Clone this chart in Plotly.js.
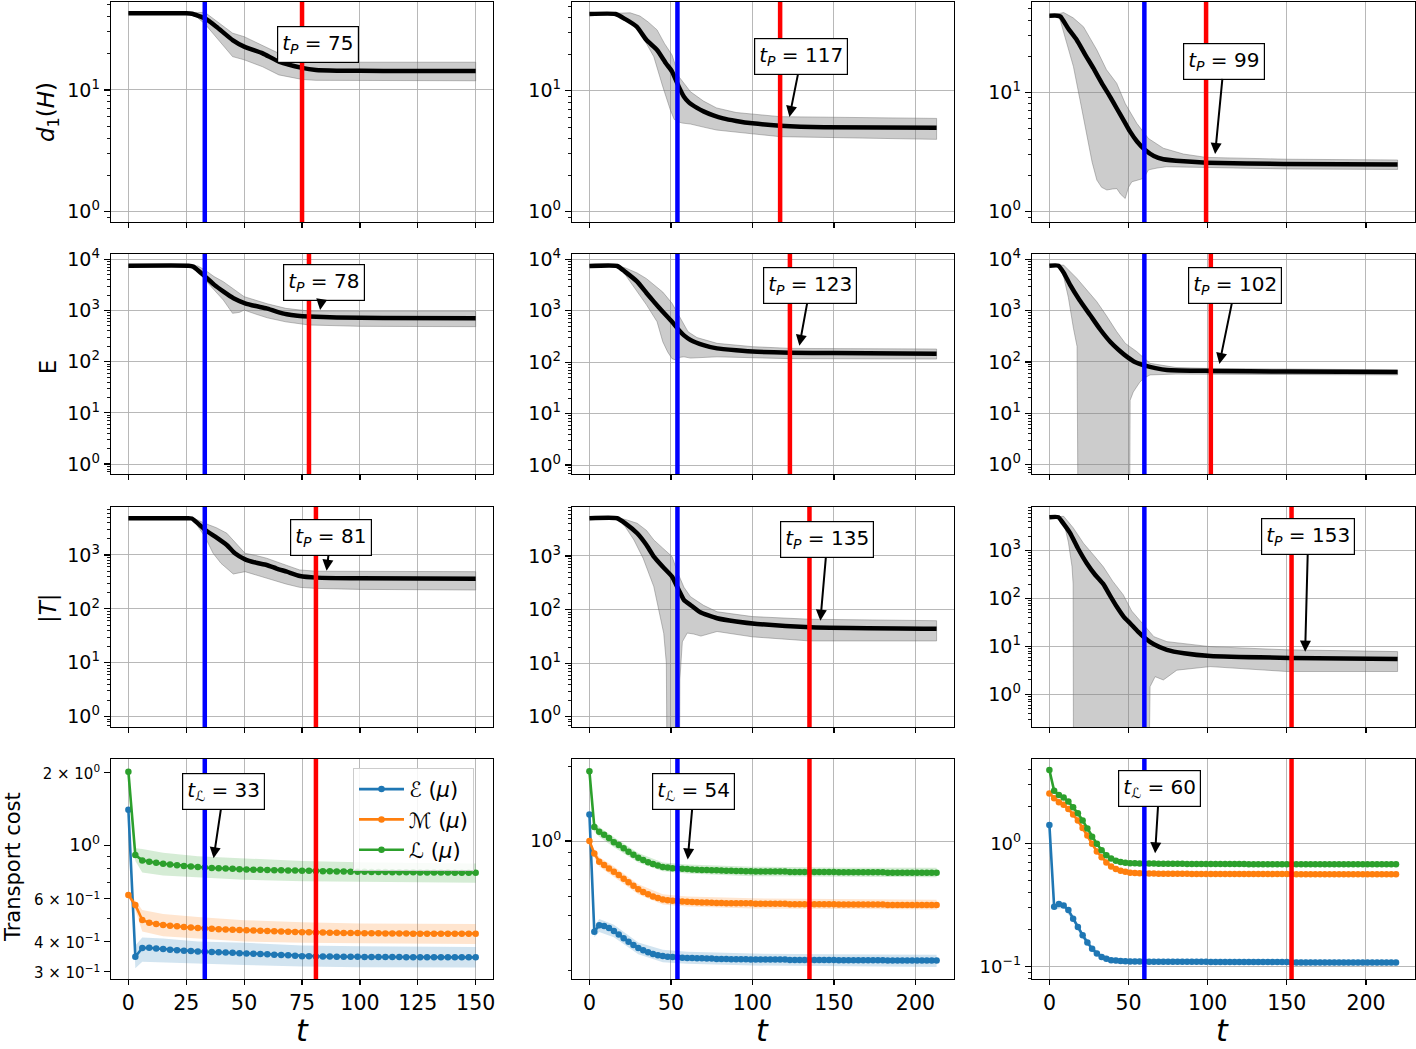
<!DOCTYPE html>
<html><head><meta charset="utf-8">
<script src="https://cdn.plot.ly/plotly-3.0.1.min.js"></script>
<style>html,body{margin:0;padding:0;background:#fff;} #chart{width:1416px;height:1049px;}</style>
</head><body><div id="chart"></div>
<script>
// ---------- vertical marker times ----------
const tL   = [33, 54, 60];
const tP_d1 = [75, 117, 99];
const tP_E  = [78, 123, 102];
const tP_T  = [81, 135, 153];

// ---------- Row 1 : d1(H) ----------
const d1_t_A  = [0,25,27.5,33,38,45,50,58,65,75,81,90,100,120,150];
const d1_m_A  = [42.7,42.7,42.3,38.8,33.1,25.7,22.7,20.0,17.1,15.2,14.6,14.4,14.35,14.3,14.3];
const d1_ht_A = [0,25,28,33,38,45,50,58,65,75,81,100,150];
const d1_hi_A = [42.7,42.7,43,43.5,37,29.3,27.4,23,20,17.1,16.9,16.9,16.9];
const d1_lt_A = [0,25,28,33,38,45,50,58,65,75,81,100,150];
const d1_lo_A = [42.7,42.7,42,35,27,18.8,17.7,15.5,13.3,12.2,12.0,11.9,11.9];

const d1_t_B  = [0,16,22,29,35,41.5,47,50.7,54.8,58,61,66,70,76,82,90,100,117,144,213];
const d1_m_B  = [43,43,39,33.8,26.2,21.7,16.8,14.4,10.8,8.9,8.0,7.2,6.75,6.25,5.9,5.62,5.37,5.14,4.98,4.94];
const d1_ht_B = [0,16,25,31,36,41.5,46,50.7,55,62,70,78,90,117,213];
const d1_hi_B = [43,43.5,44,41.4,37,31.8,24.6,19.7,13,9.8,8.2,7.2,6.6,6.1,5.9];
const d1_lt_B = [0,16,20,25,32,39.5,45,49.7,52,55,57,62,70,78,100,117,213];
const d1_lo_B = [43,42,41,38.4,28.9,19.1,10.8,6.9,5.8,5.5,5.4,5.3,5.0,4.73,4.4,4.17,3.96];

const d1_t_C  = [0,5,7,12,17.3,22.5,27.8,33,38.3,42.5,47,51,55.5,60.5,66,72,85,99.4,148,220];
const d1_m_C  = [43.8,43.8,43,34,27.4,20.8,15.9,12.0,9.2,7.35,5.8,4.68,3.85,3.29,2.93,2.75,2.64,2.57,2.51,2.48];
const d1_ht_C = [0,5,9,15,21.5,30,36,42.5,48,55.2,62.6,72,84.7,99,150,220];
const d1_hi_C = [43.8,45,46.5,42,35.4,22.6,15.5,11.9,8,5.5,4.1,3.4,3.04,2.85,2.75,2.71];
const d1_lt_C = [0,5,6.8,10,15.2,20,23.6,27,30,33,36.3,40,42.6,45,47.9,50,52.1,55,59.5,62.6,68,74,99,150,220];
const d1_lo_C = [43.8,43.8,40.3,29,16.4,7.8,4.54,2.6,1.84,1.6,1.52,1.55,1.56,1.4,1.29,1.6,1.78,1.82,1.9,2.24,2.32,2.38,2.33,2.28,2.26];

// ---------- Row 2 : E ----------
const E_t_A  = [0,26,28,33.2,37,41.1,45.4,50.4,55,59.7,64,68.4,73,78.1,90,110,150];
const E_m_A  = [7500,7500,7200,4570,3200,2330,1730,1380,1220,1100,950,843,790,760,730,715,705];
const E_ht_A = [0,26,30,33,37,41,45,50,60,68,78,100,150];
const E_hi_A = [7500,7500,7400,6200,4600,3650,2700,1860,1350,1100,975,960,960];
const E_lt_A = [0,26,30,33,37,41,45,48,50,55,60,68,78,100,150];
const E_lo_A = [7500,7500,6800,4000,2500,1600,880,920,1020,850,720,600,521,490,483];

const E_t_B  = [0,17,22,29.3,35,39.5,45,50.7,54.8,58,62,70,78.3,90,103,123,150,213];
const E_m_B  = [7400,7400,5690,3670,2210,1500,955,611,422,331,270,215,185,170,159,152,150,146];
const E_ht_B = [0,17,22,29.3,35,39.5,45,50.7,56,60.5,66,78.3,100,123,213];
const E_hi_B = [7400,7500,6800,5400,4200,3160,2300,1390,700,390,300,232,200,185,180];
const E_lt_B = [0,17,22,29.3,35,41.5,45,48,50.7,53,56,58,62,78.3,123,213];
const E_lo_B = [7400,7300,5000,2340,1300,611,250,158,117,110,125,127,120,127,117,115];

const E_t_C  = [0,5.7,9,13.1,19,25.7,32,38.4,44,48.9,54,60.5,67,74.2,101.6,150,220];
const E_m_C  = [7500,7500,5500,3160,1610,822,434,248,169,127,100,85,76,70,67,65,64];
const E_ht_C = [0,5.7,9,17.3,23,29.9,36,42.5,48,55.2,63.6,80,100,150,220];
const E_hi_C = [7500,7600,7700,4270,2600,1500,800,390,230,159,94,78,75,72,70];
const E_lt_C = [0,5.7,9,12,15.2,17.5,18.4,50.5,51,53,55.2,57,59.5,63.6,80,150,220];
const E_lo_C = [7500,7400,4600,1800,453,200,0.001,0.001,18,26,33,40,48,56,58,57,56];

// ---------- Row 3 : |T| ----------
const T_t_A  = [0,25,27.4,33.2,37.5,42.5,46,50.4,55,59.7,64,68.4,74.1,81.3,100,150];
const T_m_A  = [4800,4800,4750,2910,2190,1530,1075,830,720,652,560,490,408,380,368,363];
const T_ht_A = [0,25,28,33,38,42.5,46,50.4,55,59.7,68.4,74,81,150];
const T_hi_A = [4800,4800,4850,3870,3200,2530,1700,1075,980,870,640,527,500,490];
const T_lt_A = [0,25,28,33,36.6,40,45.3,50.4,55,59.7,68,74,81,100,150];
const T_lo_A = [4800,4800,4500,2200,1075,700,444,490,430,369,290,251,240,230,224];

const T_t_B  = [0,17,22,29.3,35,39.5,45,50.7,54.8,58,62,68,78.3,90,102.9,135.6,213];
const T_m_B  = [5050,5050,4070,2650,1600,975,630,412,232,151,122,89,69,60,54,47,44];
const T_ht_B = [0,17,22,29.3,35,39.5,45,50.7,54,58,62,70,78.3,100,135,213];
const T_hi_B = [5050,5100,4800,4070,3000,1990,1400,975,500,260,174,120,91,74,66,62];
const T_lt_B = [0,17,22,27.3,33,39.5,43,45.6,47.2,48,55,55.5,57,60,64,68.4,78.3,100,135,213];
const T_lo_B = [5050,5000,3500,1990,900,268,90,36,10,0.001,0.001,5,25,36.5,35,32,39,31,26,26];

const T_t_C  = [0,5.7,9,13.1,18,23.6,29,34.1,38,42.5,47,51,56,60.5,66,74.2,85,101.6,152,220];
const T_m_C  = [4980,4980,3600,2310,1120,546,310,200,120,68,41.5,30.5,20.4,14.9,11.1,8.5,7.2,6.3,5.76,5.5];
const T_ht_C = [0,5.7,9,15,21.5,28,34,40,46.7,52,60.5,66,74.2,101.6,150,220];
const T_hi_C = [4980,5100,5200,3000,1430,800,463,230,119,55,25.7,16,12.6,9.9,8.5,7.8];
const T_lt_C = [0,5.7,9,12,14.3,15,15.3,62.5,63.6,66.8,72,80.5,101.6,150,220];
const T_lo_C = [4980,4900,4000,1500,463,200,0.001,0.001,1.45,2.34,2.0,3.2,3.8,3.0,3.0];

// ---------- Row 4 : Transport cost ----------
const tA = [0,3,6,9,12,15,18,21,24,27,30,33,36,39,42,45,48,51,54,57,60,63,66,69,72,75,78,81,84,87,90,93,96,99,102,105,108,111,114,117,120,123,126,129,132,135,138,141,144,147,150];
const costE_A = [1.40,0.346,0.376,0.377,0.374,0.372,0.370,0.368,0.366,0.365,0.364,0.363,0.362,0.361,0.360,0.359,0.358,0.357,0.356,0.355,0.354,0.353,0.352,0.351,0.349,0.348,0.348,0.347,0.347,0.347,0.346,0.346,0.346,0.346,0.345,0.345,0.345,0.345,0.345,0.345,0.344,0.344,0.344,0.344,0.344,0.344,0.344,0.344,0.344,0.344,0.344];
const costM_A = [0.622,0.566,0.491,0.478,0.472,0.468,0.465,0.462,0.459,0.457,0.455,0.453,0.451,0.449,0.448,0.447,0.446,0.445,0.444,0.443,0.442,0.441,0.440,0.439,0.438,0.437,0.437,0.436,0.436,0.435,0.435,0.434,0.434,0.434,0.433,0.433,0.433,0.432,0.432,0.432,0.432,0.431,0.431,0.431,0.431,0.431,0.431,0.431,0.431,0.431,0.431];
const costL_A = [2.01,0.91,0.865,0.853,0.845,0.838,0.832,0.826,0.821,0.816,0.812,0.808,0.805,0.802,0.800,0.798,0.796,0.794,0.792,0.791,0.790,0.788,0.787,0.786,0.785,0.784,0.783,0.782,0.781,0.780,0.779,0.778,0.777,0.776,0.776,0.775,0.774,0.774,0.773,0.773,0.772,0.772,0.771,0.771,0.770,0.770,0.770,0.769,0.769,0.769,0.769];
const bandT_A = [0,3,6,15,30,50,75,100,150];
const costE_lo_A = [1.38,0.31,0.33,0.328,0.325,0.32,0.315,0.313,0.312];
const costE_hi_A = [1.42,0.385,0.415,0.412,0.40,0.395,0.385,0.382,0.38];
const costM_lo_A = [0.61,0.54,0.44,0.42,0.41,0.40,0.395,0.393,0.391];
const costM_hi_A = [0.635,0.59,0.54,0.52,0.505,0.49,0.48,0.475,0.472];
const costL_lo_A = [1.98,0.86,0.77,0.75,0.735,0.72,0.71,0.705,0.70];
const costL_hi_A = [2.04,0.97,0.965,0.93,0.90,0.88,0.86,0.85,0.84];

const tB = [0,3,6,9,12,15,18,21,24,27,30,33,36,39,42,45,48,51,54,57,60,63,66,69,72,75,78,81,84,87,90,93,96,99,102,105,108,111,114,117,120,123,126,129,132,135,138,141,144,147,150,153,156,159,162,165,168,171,174,177,180,183,186,189,192,195,198,201,204,207,210,213];
const costE_B = [1.28,0.431,0.458,0.455,0.446,0.434,0.420,0.406,0.393,0.381,0.371,0.363,0.356,0.351,0.347,0.344,0.342,0.341,0.340,0.339,0.338,0.338,0.337,0.337,0.336,0.336,0.335,0.335,0.335,0.334,0.334,0.334,0.334,0.333,
 0.333,0.333,0.333,0.333,0.333,0.333,0.333,
 0.332,0.332,0.332,0.332,0.332,0.332,0.332,0.332,0.332,0.332,
 0.331,0.331,0.331,0.331,0.331,0.331,0.331,0.331,0.331,0.331,
 0.330,0.330,0.330,0.330,0.330,0.330,0.330,0.330,0.330,0.330,0.330];
const costM_B = [1.00,0.892,0.826,0.800,0.775,0.752,0.730,0.705,0.682,0.660,0.640,0.623,0.610,0.598,0.589,0.582,0.578,0.575,0.573,0.571,0.570,0.568,0.567,0.566,0.565,0.564,0.563,0.563,0.562,0.562,0.561,0.561,0.561,0.561,
 0.559,0.559,0.559,0.559,0.559,0.559,0.559,
 0.557,0.557,0.557,0.557,0.557,0.557,0.557,0.557,0.557,0.557,
 0.555,0.555,0.555,0.555,0.555,0.555,0.555,0.555,0.555,0.555,
 0.553,0.553,0.553,0.553,0.553,0.553,0.553,0.553,0.553,0.553,0.553];
const costL_B = [1.91,1.14,1.09,1.06,1.03,0.99,0.965,0.935,0.905,0.88,0.857,0.838,0.822,0.808,0.797,0.787,0.782,0.778,0.776,0.773,0.771,0.769,0.767,0.765,0.764,0.763,0.762,0.761,0.760,0.759,0.758,0.757,0.756,0.755,
 0.754,0.754,0.754,0.754,0.754,0.754,0.754,
 0.751,0.751,0.751,0.751,0.751,0.751,0.751,0.751,0.751,0.751,
 0.748,0.748,0.748,0.748,0.748,0.748,0.748,0.748,0.748,0.748,
 0.746,0.746,0.746,0.746,0.746,0.746,0.746,0.746,0.746,0.746,0.746];
const bandT_B = [0,3,6,15,30,45,60,100,150,213];
const costE_lo_B = [1.26,0.41,0.43,0.41,0.35,0.325,0.32,0.315,0.313,0.311];
const costE_hi_B = [1.30,0.45,0.485,0.46,0.39,0.365,0.358,0.352,0.35,0.348];
const costM_lo_B = [0.99,0.86,0.79,0.715,0.61,0.555,0.545,0.535,0.532,0.53];
const costM_hi_B = [1.01,0.92,0.86,0.79,0.67,0.61,0.598,0.588,0.584,0.58];
const costL_lo_B = [1.88,1.09,1.04,0.945,0.82,0.755,0.74,0.722,0.718,0.715];
const costL_hi_B = [1.94,1.19,1.14,1.035,0.895,0.82,0.805,0.788,0.783,0.78];

const tC = [0,3,6,9,12,15,18,21,24,27,30,33,36,39,42,45,48,51,54,57,60,63,66,69,72,75,78,81,84,87,90,93,96,99,102,105,108,111,114,117,120,123,126,129,132,135,138,141,144,147,150,153,156,159,162,165,168,171,174,177,180,183,186,189,192,195,198,201,204,207,210,213,216,219];
const costE_C = [1.41,0.306,0.322,0.314,0.288,0.245,0.21,0.18,0.157,0.14,0.128,0.12,0.116,0.113,0.112,0.111,0.1105,0.110,0.110,0.110,0.110,
 0.1095,0.1095,0.1095,0.1095,0.1095,0.1095,0.1095,0.1095,0.1095,0.1095,0.1095,0.1095,0.1095,
 0.109,0.109,0.109,0.109,0.109,0.109,0.109,0.109,0.109,0.109,0.109,0.109,0.109,0.109,0.109,0.109,0.109,
 0.108,0.108,0.108,0.108,0.108,0.108,0.108,0.108,0.108,0.108,0.108,0.108,0.108,0.108,0.108,0.108,0.108,0.108,0.108,0.108,0.108,0.108,0.108];
const costM_C = [2.54,2.32,2.15,2.05,1.90,1.71,1.53,1.33,1.16,0.99,0.86,0.77,0.70,0.65,0.62,0.60,0.589,0.578,0.575,0.571,0.570,
 0.569,0.569,0.568,0.568,0.567,0.567,0.566,0.566,0.566,0.565,0.565,0.565,0.564,
 0.564,0.564,0.564,0.564,0.564,0.564,0.564,0.564,0.563,0.563,0.563,0.563,0.563,0.563,0.563,0.563,0.563,
 0.562,0.562,0.562,0.562,0.562,0.562,0.562,0.562,0.562,0.562,0.561,0.561,0.561,0.561,0.561,0.561,0.561,0.561,0.561,0.561,0.561,0.561,0.561];
const costL_C = [3.93,2.67,2.47,2.35,2.18,1.96,1.75,1.53,1.32,1.13,0.99,0.88,0.80,0.755,0.723,0.705,0.696,0.690,0.688,0.687,0.686,
 0.685,0.685,0.684,0.684,0.683,0.683,0.682,0.682,0.681,0.681,0.681,0.680,0.680,
 0.679,0.679,0.679,0.679,0.679,0.679,0.679,0.679,0.678,0.678,0.678,0.678,0.678,0.678,0.678,0.678,0.678,
 0.677,0.677,0.677,0.677,0.677,0.677,0.677,0.677,0.677,0.677,0.676,0.676,0.676,0.676,0.676,0.676,0.676,0.676,0.676,0.676,0.676,0.676,0.676];
const bandT_C = [0,3,9,15,21,27,33,39,45,51,60,100,150,219];
const costE_lo_C = [1.37,0.29,0.30,0.232,0.17,0.133,0.114,0.107,0.105,0.104,0.104,0.103,0.103,0.102];
const costE_hi_C = [1.45,0.322,0.33,0.258,0.19,0.147,0.126,0.119,0.117,0.116,0.116,0.116,0.115,0.114];
const costM_lo_C = [2.50,2.26,1.99,1.65,1.28,0.95,0.74,0.63,0.58,0.56,0.553,0.55,0.548,0.547];
const costM_hi_C = [2.58,2.38,2.11,1.77,1.38,1.03,0.80,0.67,0.62,0.596,0.588,0.584,0.583,0.582];
const costL_lo_C = [3.86,2.60,2.28,1.90,1.48,1.09,0.85,0.73,0.68,0.67,0.667,0.662,0.66,0.656];
const costL_hi_C = [4.0,2.74,2.42,2.02,1.58,1.17,0.91,0.78,0.73,0.712,0.706,0.702,0.70,0.697];

const seriesNames = ['ℰ (<i>μ</i>)', 'ℳ (<i>μ</i>)', 'ℒ (<i>μ</i>)'];

// ---------- assemble ----------
const FONT = 'DejaVu Sans, Liberation Sans, sans-serif';
const metricRows = [
  [{t:d1_t_A,m:d1_m_A,ht:d1_ht_A,hi:d1_hi_A,lt:d1_lt_A,lo:d1_lo_A},
   {t:d1_t_B,m:d1_m_B,ht:d1_ht_B,hi:d1_hi_B,lt:d1_lt_B,lo:d1_lo_B},
   {t:d1_t_C,m:d1_m_C,ht:d1_ht_C,hi:d1_hi_C,lt:d1_lt_C,lo:d1_lo_C}],
  [{t:E_t_A,m:E_m_A,ht:E_ht_A,hi:E_hi_A,lt:E_lt_A,lo:E_lo_A},
   {t:E_t_B,m:E_m_B,ht:E_ht_B,hi:E_hi_B,lt:E_lt_B,lo:E_lo_B},
   {t:E_t_C,m:E_m_C,ht:E_ht_C,hi:E_hi_C,lt:E_lt_C,lo:E_lo_C}],
  [{t:T_t_A,m:T_m_A,ht:T_ht_A,hi:T_hi_A,lt:T_lt_A,lo:T_lo_A},
   {t:T_t_B,m:T_m_B,ht:T_ht_B,hi:T_hi_B,lt:T_lt_B,lo:T_lo_B},
   {t:T_t_C,m:T_m_C,ht:T_ht_C,hi:T_hi_C,lt:T_lt_C,lo:T_lo_C}]
];
const costCols = [
  {t:tA, bt:bandT_A, s:[[costE_A,costE_lo_A,costE_hi_A],[costM_A,costM_lo_A,costM_hi_A],[costL_A,costL_lo_A,costL_hi_A]]},
  {t:tB, bt:bandT_B, s:[[costE_B,costE_lo_B,costE_hi_B],[costM_B,costM_lo_B,costM_hi_B],[costL_B,costL_lo_B,costL_hi_B]]},
  {t:tC, bt:bandT_C, s:[[costE_C,costE_lo_C,costE_hi_C],[costM_C,costM_lo_C,costM_hi_C],[costL_C,costL_lo_C,costL_hi_C]]}
];
const tProws = [tP_d1, tP_E, tP_T, tP_T];
const colors = ['#1f77b4','#ff7f0e','#2ca02c'];
const fills  = ['rgba(31,119,180,0.2)','rgba(255,127,14,0.2)','rgba(44,160,44,0.2)'];

const colX = [[0.0784,0.3482],[0.4040,0.6737],[0.7288,0.9993]];
const rowY = [[0.7884,0.9981],[0.5481,0.7579],[0.3070,0.5167],[0.0667,0.2765]];
const xRanges = [[-7.5,157.5],[-10.65,223.65],[-11,231]];
const yRanges = [
  [[-0.085,1.723],[-0.085,1.733],[-0.086,1.756]],
  [[-0.195,4.104],[-0.175,4.103],[-0.182,4.103]],
  [[-0.19,3.89],[-0.19,3.914],[-0.68,3.91]],
  [[-0.553,0.356],[-0.556,0.331],[-1.1,0.684]]
];
const xTicks = [[0,25,50,75,100,125,150],[0,50,100,150,200],[0,50,100,150,200]];
const sup = e => '10<sup>' + e + '</sup>';
const small = s => '<span style="font-size:15px">' + s + '</span>';
const yTickSets = [
  [[1,10],[sup(0),sup(1)]],
  [[1,10,100,1000,10000],[sup(0),sup(1),sup(2),sup(3),sup(4)]],
  [[1,10,100,1000],[sup(0),sup(1),sup(2),sup(3)]]
];
const row4Ticks = [
  [[0.3,0.4,0.6,1,2],[small('3 × 10<sup>−1</sup>'),small('4 × 10<sup>−1</sup>'),small('6 × 10<sup>−1</sup>'),sup(0),small('2 × 10<sup>0</sup>')]],
  [[1],[sup(0)]],
  [[0.1,1],[sup('−1'),sup(0)]]
];
const minorVals = [];
[0.01,0.1,1,10,100,1000].forEach(d => { for (let m=2;m<=9;m++) minorVals.push(m*d); });

const traces = [];
const layout = {
  width:1416, height:1049, margin:{l:0,r:0,t:0,b:0},
  paper_bgcolor:'#fff', plot_bgcolor:'#fff',
  font:{family:FONT, color:'#000'},
  showlegend:true,
  legend:{x:0.2493, y:0.2679, xanchor:'left', yanchor:'top', bgcolor:'rgba(255,255,255,0.85)',
          bordercolor:'#cccccc', borderwidth:1, font:{size:21, family:FONT}, tracegroupgap:0,
          itemwidth:45},
  shapes:[], annotations:[]
};

for (let r=0;r<4;r++) for (let c=0;c<3;c++) {
  const k = r*3+c+1, sfx = k===1?'':String(k);
  const xa = 'x'+sfx, ya = 'y'+sfx;
  layout['xaxis'+sfx] = {
    domain:colX[c], range:xRanges[c], anchor:ya, tickmode:'array', tickvals:xTicks[c],
    showticklabels: r===3, ticks:'outside', ticklen:5, tickwidth:1.2, tickcolor:'#000',
    showline:true, mirror:true, linecolor:'#000', linewidth:1.3,
    showgrid:true, gridcolor:'#b0b0b0', gridwidth:0.9, zeroline:false,
    tickfont:{size:20.5, family:FONT, color:'#000'}
  };
  const tk = r<3 ? yTickSets[r] : row4Ticks[c];
  layout['yaxis'+sfx] = {
    domain:rowY[r], type:'log', range:yRanges[r][c], anchor:xa,
    tickmode:'array', tickvals:tk[0], ticktext:tk[1],
    ticks:'outside', ticklen:6, tickwidth:1.2, tickcolor:'#000',
    showline:true, mirror:true, linecolor:'#000', linewidth:1.3,
    showgrid: !(r===3 && c===0), gridcolor:'#b0b0b0', gridwidth:0.9, zeroline:false,
    tickfont:{size: r<3 ? 19 : 18, family:FONT, color:'#000'},
    minor:{tickmode:'array', tickvals:minorVals, ticks:'outside', ticklen:3, tickwidth:0.9, tickcolor:'#000', showgrid:false}
  };

  if (r<3) {
    const d = metricRows[r][c];
    traces.push({x:d.ht.concat(d.lt.slice().reverse()), y:d.hi.concat(d.lo.slice().reverse()),
      xaxis:xa, yaxis:ya, mode:'lines', fill:'toself', fillcolor:'rgba(128,128,128,0.4)',
      line:{color:'rgba(105,105,105,0.55)', width:0.8}, showlegend:false, hoverinfo:'skip'});
    traces.push({x:d.t, y:d.m, xaxis:xa, yaxis:ya, mode:'lines',
      line:{color:'#000', width:4.5, shape:'spline', smoothing:0.5}, showlegend:false});
  } else {
    const d = costCols[c];
    d.s.forEach((s,i) => {
      traces.push({x:d.bt.concat(d.bt.slice().reverse()), y:s[2].concat(s[1].slice().reverse()),
        xaxis:xa, yaxis:ya, mode:'lines', fill:'toself', fillcolor:fills[i],
        line:{width:0, color:'rgba(0,0,0,0)'}, showlegend:false, hoverinfo:'skip'});
    });
    d.s.forEach((s,i) => {
      traces.push({x:d.t, y:s[0], xaxis:xa, yaxis:ya, mode:'lines+markers', name:seriesNames[i],
        line:{color:colors[i], width:2.6}, marker:{color:colors[i], size:6.5},
        showlegend: c===0, legendrank: i+1});
    });
  }
  // vertical marker lines
  layout.shapes.push({type:'line', xref:xa, yref:ya+' domain', x0:tL[c], x1:tL[c], y0:0, y1:1,
    line:{color:'#0000ff', width:4.5}, layer:'above'});
  layout.shapes.push({type:'line', xref:xa, yref:ya+' domain', x0:tProws[r][c], x1:tProws[r][c], y0:0, y1:1,
    line:{color:'#ff0000', width:4.5}, layer:'above'});
}
// single major gridline for the first cost panel
layout.shapes.push({type:'line', xref:'x10 domain', yref:'y10', x0:0, x1:1, y0:Math.log10(1), y1:Math.log10(1),
  line:{color:'#b0b0b0', width:0.9}, layer:'below'});

// annotation geometry (tip offset in t, tip log-y, text offset in px)
const annGeom = [
  [{dx:3.9, ly:1.214, ax:7, ay:-19},  {dx:5.7, ly:0.783, ax:12, ay:-60}, {dx:5.7, ly:0.483, ax:9, ay:-93}],
  [{dx:4.8, ly:3.01,  ax:4, ay:-27},  {dx:5.8, ly:2.319, ax:11, ay:-60}, {dx:5.4, ly:1.961, ax:16, ay:-78}],
  [{dx:4.6, ly:2.709, ax:4, ay:-33},  {dx:6.7, ly:1.793, ax:7, ay:-81},  {dx:8.6, ly:0.891, ax:3, ay:-115}],
  [{dx:3.8, ly:-0.054, ax:10, ay:-67},{dx:6.3, ly:-0.074, ax:6, ay:-68}, {dx:6.8, ly:-0.081, ax:4, ay:-65}]
];
for (let r=0;r<4;r++) for (let c=0;c<3;c++) {
  const k = r*3+c+1, sfx = k===1?'':String(k);
  const g = annGeom[r][c];
  const base = r<3 ? tProws[r][c] : tL[c];
  const txt = r<3 ? '<i>t</i><sub><i>P</i></sub> = ' + tProws[r][c] : '<i>t</i><sub>ℒ</sub> = ' + tL[c];
  layout.annotations.push({xref:'x'+sfx, yref:'y'+sfx, x:base+g.dx, y:g.ly, ax:g.ax, ay:g.ay,
    text:txt, showarrow:true, arrowhead:2, arrowsize:1.1, arrowwidth:2, arrowcolor:'#000', standoff:0,
    bgcolor:'#fff', bordercolor:'#000', borderwidth:1.2, borderpad:4, font:{size:20, family:FONT, color:'#000'}});
}
// axis titles
const yt = [['<i>d</i><sub>1</sub>(<i>H</i>)',0.0339,0.8932,23],['E',0.0339,0.650,23],['|<i>T</i>|',0.0339,0.4204,23],['Transport cost',0.0092,0.1735,21]];
yt.forEach(a => layout.annotations.push({xref:'paper', yref:'paper', x:a[1], y:a[2], text:a[0], textangle:-90,
  showarrow:false, xanchor:'center', yanchor:'middle', font:{size:a[3], family:FONT, color:'#000'}}));
[0.2133,0.5388,0.8637].forEach(x => layout.annotations.push({xref:'paper', yref:'paper', x:x, y:0,
  text:'<i>t</i>', showarrow:false, xanchor:'center', yanchor:'bottom', borderpad:0, font:{size:30, family:FONT, color:'#000'}}));

Plotly.newPlot('chart', traces, layout, {staticPlot:true, displayModeBar:false});
</script></body></html>
